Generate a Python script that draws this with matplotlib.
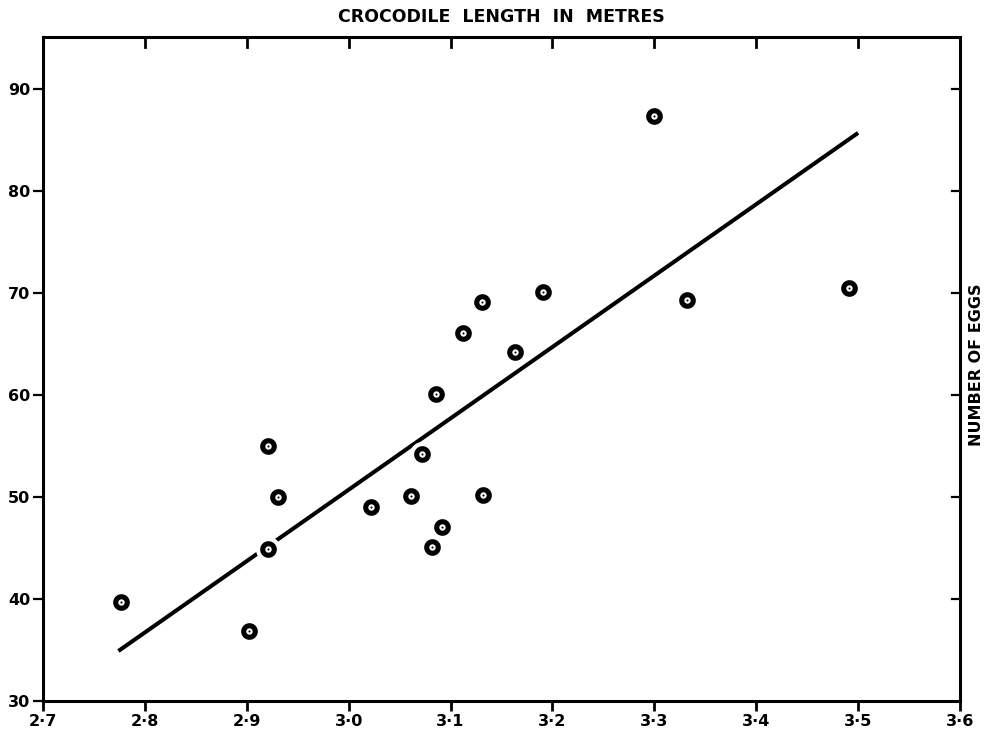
import matplotlib
matplotlib.use("Agg")
import matplotlib.pyplot as plt

# Data
length_m = [2.777, 2.902, 2.921, 2.931, 2.921, 3.022, 3.061, 3.072, 3.086, 3.082,
            3.092, 3.112, 3.131, 3.132, 3.163, 3.191, 3.300, 3.332, 3.491]
eggs = [39.7, 36.9, 55.0, 50.0, 44.9, 49.0, 50.1, 54.2, 60.1, 45.1,
        47.1, 66.1, 69.1, 50.2, 64.2, 70.1, 87.35, 69.3, 70.5]
fit_x = [2.774, 3.500]
fit_y = [34.9, 85.7]
x_ticks = [2.7, 2.8, 2.9, 3.0, 3.1, 3.2, 3.3, 3.4, 3.5, 3.6]
x_tick_labels = ["2·7", "2·8", "2·9", "3·0", "3·1", "3·2", "3·3", "3·4", "3·5", "3·6"]
y_ticks = [30, 40, 50, 60, 70, 80, 90]
y_tick_labels = ["30", "40", "50", "60", "70", "80", "90"]

plt.rcParams['font.family'] = ['DejaVu Sans']

fig = plt.figure(figsize=(9.87, 7.32), dpi=100)
W, H = 987, 732
left, right, top, bottom = 43, 960, 37, 701
ax = fig.add_axes([left / W, 1 - bottom / H, (right - left) / W, (bottom - top) / H])

ax.plot(fit_x, fit_y, color='black', lw=2.9, solid_capstyle='butt', zorder=2)
# markers: thick black ring with white halo, small white centre, black dot
ax.plot(length_m, eggs, 'o', ms=15.0, mfc='black', mec='white', mew=3.0, zorder=3, linestyle='none')
ax.plot(length_m, eggs, 'o', ms=4.6, mfc='white', mec='none', zorder=4, linestyle='none')
ax.plot(length_m, eggs, 'o', ms=1.5, mfc='black', mec='none', zorder=5, linestyle='none')

ax.set_xlim(2.7, 3.6)
ax.set_ylim(30, 95.1)

ax.set_xticks(x_ticks)
ax.set_xticklabels(x_tick_labels, fontsize=11.5, fontweight='bold')
ax.set_yticks(y_ticks)
ax.set_yticklabels(y_tick_labels, fontsize=11.5, fontweight='bold')

ax.tick_params(axis='x', which='both', bottom=True, top=False, direction='out',
               length=7, width=2, pad=2)
ax.tick_params(axis='y', which='both', left=True, right=False, direction='out',
               length=7, width=1.6, pad=2)

# top and right ticks pointing inwards
for x in x_ticks[1:-1]:
    ax.plot([x, x], [95.1, 94.1], color='black', lw=2, clip_on=False, zorder=6)
for y in y_ticks[1:]:
    ax.plot([3.6, 3.592], [y, y], color='black', lw=1.6, clip_on=False, zorder=6)

for s in ax.spines.values():
    s.set_linewidth(2.2)

fig.text((left + right) / 2 / W, 1 - 17 / H, "CROCODILE  LENGTH  IN  METRES",
         ha='center', va='center', fontsize=12.5, fontweight='bold')
fig.text(977 / W, 1 - 365 / H, "NUMBER OF EGGS", rotation=90,
         ha='center', va='center', fontsize=11.5, fontweight='bold')

fig.savefig("out.png", dpi=100)
